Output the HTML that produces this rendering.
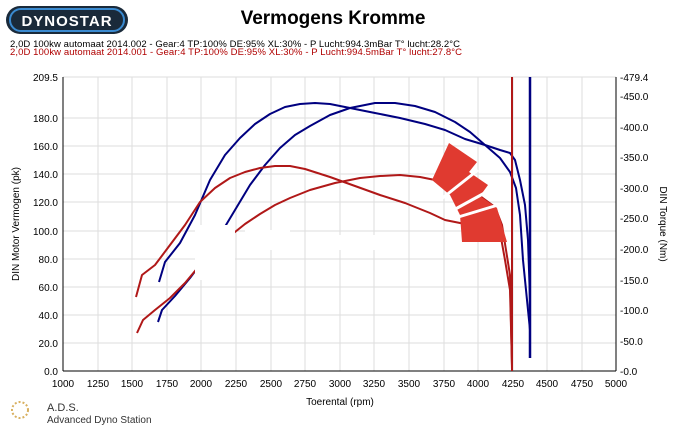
<!DOCTYPE html><html><head><style>body{margin:0;background:#fff;width:685px;height:428px;overflow:hidden;font-family:"Liberation Sans",sans-serif}</style></head><body>
<svg width="685" height="428" xmlns="http://www.w3.org/2000/svg" font-family="Liberation Sans, sans-serif">
<rect x="6" y="6" width="122" height="28" rx="14" fill="#1a2a3a"/>
<rect x="10" y="9" width="114" height="22" rx="11" fill="none" stroke="#3a8ad0" stroke-width="2"/>
<text x="67" y="26" font-size="15" font-weight="bold" fill="#fff" text-anchor="middle" letter-spacing="1">DYNOSTAR</text>
<text x="333" y="24" font-size="19" font-weight="bold" text-anchor="middle">Vermogens Kromme</text>
<text x="10" y="47" font-size="9.5" fill="#000" textLength="450">2,0D 100kw automaat 2014.002 - Gear:4 TP:100% DE:95% XL:30%     - P Lucht:994.3mBar T° lucht:28.2°C</text>
<text x="10" y="55" font-size="9.5" fill="#b00000" textLength="452">2,0D 100kw automaat 2014.001 - Gear:4 TP:100% DE:95% XL:30%       - P Lucht:994.5mBar T° lucht:27.8°C</text>
<g stroke="#ddd" stroke-width="1">
<line x1="63" y1="77" x2="616" y2="77"/><line x1="63" y1="118" x2="616" y2="118"/><line x1="63" y1="146" x2="616" y2="146"/><line x1="63" y1="174" x2="616" y2="174"/><line x1="63" y1="202" x2="616" y2="202"/><line x1="63" y1="231" x2="616" y2="231"/><line x1="63" y1="259" x2="616" y2="259"/><line x1="63" y1="287" x2="616" y2="287"/><line x1="63" y1="315" x2="616" y2="315"/><line x1="63" y1="343" x2="616" y2="343"/>
<line x1="98" y1="77" x2="98" y2="371"/><line x1="132" y1="77" x2="132" y2="371"/><line x1="167" y1="77" x2="167" y2="371"/><line x1="201" y1="77" x2="201" y2="371"/><line x1="236" y1="77" x2="236" y2="371"/><line x1="271" y1="77" x2="271" y2="371"/><line x1="305" y1="77" x2="305" y2="371"/><line x1="340" y1="77" x2="340" y2="371"/><line x1="374" y1="77" x2="374" y2="371"/><line x1="409" y1="77" x2="409" y2="371"/><line x1="444" y1="77" x2="444" y2="371"/><line x1="478" y1="77" x2="478" y2="371"/><line x1="513" y1="77" x2="513" y2="371"/><line x1="547" y1="77" x2="547" y2="371"/><line x1="582" y1="77" x2="582" y2="371"/>
</g>
<g stroke="#000"><line x1="63" y1="77" x2="63" y2="371"/><line x1="616" y1="77" x2="616" y2="371"/><line x1="63" y1="371" x2="616" y2="371"/></g>
<g font-size="10" text-anchor="end">
<text x="58" y="81">209.5</text><text x="58" y="122">180.0</text><text x="58" y="150">160.0</text><text x="58" y="178">140.0</text><text x="58" y="206">120.0</text><text x="58" y="235">100.0</text><text x="58" y="263">80.0</text><text x="58" y="291">60.0</text><text x="58" y="319">40.0</text><text x="58" y="347">20.0</text><text x="58" y="375">0.0</text>
</g>
<g font-size="10">
<text x="620" y="81">-479.4</text><text x="620" y="100">-450.0</text><text x="620" y="131">-400.0</text><text x="620" y="161">-350.0</text><text x="620" y="192">-300.0</text><text x="620" y="222">-250.0</text><text x="620" y="253">-200.0</text><text x="620" y="284">-150.0</text><text x="620" y="314">-100.0</text><text x="620" y="345">-50.0</text><text x="620" y="375">-0.0</text>
</g>
<g font-size="10" text-anchor="middle">
<text x="63" y="387">1000</text><text x="98" y="387">1250</text><text x="132" y="387">1500</text><text x="167" y="387">1750</text><text x="201" y="387">2000</text><text x="236" y="387">2250</text><text x="271" y="387">2500</text><text x="305" y="387">2750</text><text x="340" y="387">3000</text><text x="374" y="387">3250</text><text x="409" y="387">3500</text><text x="444" y="387">3750</text><text x="478" y="387">4000</text><text x="513" y="387">4250</text><text x="547" y="387">4500</text><text x="582" y="387">4750</text><text x="616" y="387">5000</text>
<text x="340" y="405">Toerental (rpm)</text>
</g>
<text transform="translate(19,224) rotate(-90)" font-size="10" text-anchor="middle">DIN Motor Vermogen (pk)</text>
<text transform="translate(660,224) rotate(90)" font-size="10" text-anchor="middle">DIN Torque (Nm)</text>
<g fill="none" stroke-width="2" stroke-linejoin="round">
<polyline stroke="#000080" points="159,282 165,262 180,243 195,215 210,180 225,155 240,138 255,124 270,114 285,107 300,104 315,103 330,104 350,108 375,113 400,118 425,124 445,130 465,139 485,145 500,150 510,153 515,160 520,180 525,205 528,240 530,300 530,358"/>
<polyline stroke="#000080" points="158,322 162,310 175,296 190,278 205,258 220,235 235,210 250,185 265,165 280,148 295,135 310,126 330,115 350,108 375,103 395,103 415,106 435,112 455,122 470,132 485,145 500,158 510,172 516,188 520,215 523,260 527,300 530,330"/>
<line x1="530" y1="77" x2="530" y2="358" stroke="#000080" stroke-width="2.5"/>
<polyline stroke="#b01818" points="136,297 142,275 155,265 170,245 185,225 200,202 215,188 230,178 245,172 260,168 275,166 290,166 305,169 330,177 355,186 380,195 405,203 430,213 445,220 470,225 500,232 505,260 510,290 512,365"/>
<polyline stroke="#b01818" points="137,333 143,320 155,310 170,298 185,283 200,265 215,250 230,236 245,224 260,214 275,205 290,198 310,190 335,183 360,178 380,176 400,175 420,177 440,181 460,187 480,196 495,207 502,225 506,250 510,275 512,370"/>
<line x1="512" y1="77" x2="512" y2="371" stroke="#b01818" stroke-width="2"/>
</g>
<g fill="#fff"><rect x="195" y="225" width="40" height="55"/><rect x="245" y="230" width="45" height="20"/><rect x="330" y="235" width="70" height="15"/></g>
<path d="M449,143 L477,162 L469,172 L488,185 L480,196 L497,208 L507,242 L462,242 L460,215 L450,195 L432,180 Z" fill="#e03a30"/>
<g stroke="#fff" stroke-width="3"><line x1="440" y1="200" x2="478" y2="170"/><line x1="450" y1="212" x2="490" y2="190"/><line x1="455" y1="218" x2="498" y2="205"/></g>
<circle cx="20" cy="410" r="8" fill="none" stroke="#d8b060" stroke-width="2" stroke-dasharray="2 2"/>
<text x="47" y="411" font-size="11" fill="#333">A.D.S.</text>
<text x="47" y="423" font-size="10" fill="#333">Advanced Dyno Station</text>
</svg></body></html>
